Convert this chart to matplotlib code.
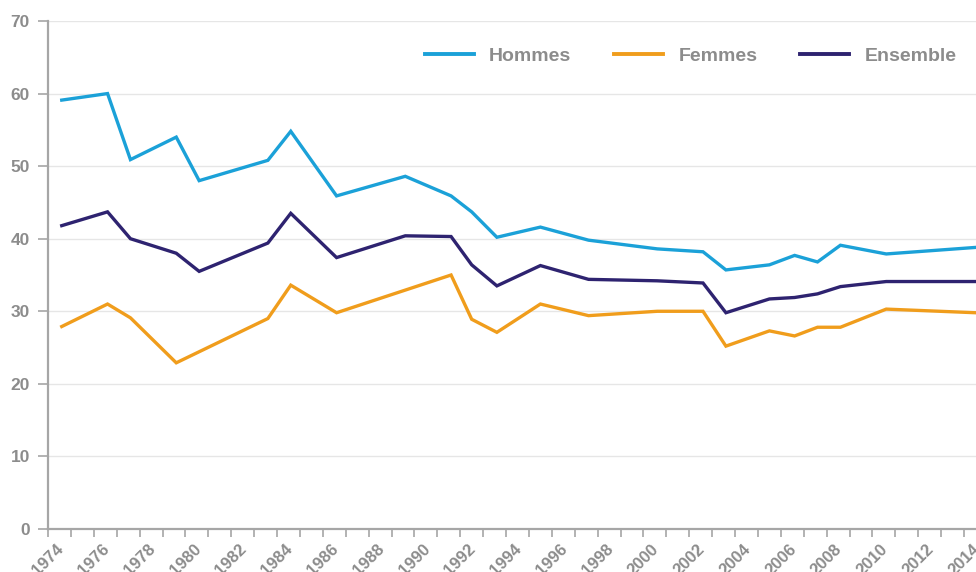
import numpy as np
import matplotlib.pyplot as plt
from matplotlib.ticker import MultipleLocator

plt.rcParams['font.family'] = ['Liberation Sans', 'DejaVu Sans']

# survey dates (fractional years, as placed on the chart)
years = [1974.6, 1976.6, 1977.6, 1979.6, 1980.6, 1983.6, 1984.6, 1986.6,
         1989.6, 1991.6, 1992.5, 1993.6, 1995.5, 1997.6, 2000.6, 2002.6,
         2003.6, 2005.5, 2006.6, 2007.6, 2008.6, 2010.6, 2014.5]

hommes = [59.1, 60.0, 50.9, 54.0, 48.0, 50.8, 54.8, 45.9,
          48.6, 45.9, 43.7, 40.2, 41.6, 39.8, 38.6, 38.2,
          35.7, 36.4, 37.7, 36.8, 39.1, 37.9, 38.8]

femmes = [27.9, 31.0, 29.1, 22.9, np.nan, 29.0, 33.6, 29.8,
          np.nan, 35.0, 28.9, 27.1, 31.0, 29.4, 30.0, 30.0,
          25.2, 27.3, 26.6, 27.8, 27.8, 30.3, 29.8]

ensemble = [41.8, 43.7, 40.0, 38.0, 35.5, 39.4, 43.5, 37.4,
            40.4, 40.3, 36.4, 33.5, 36.3, 34.4, 34.2, 33.9,
            29.8, 31.7, 31.9, 32.4, 33.4, 34.1, 34.1]

series = [('Hommes', hommes, '#1ba1d8'),
          ('Femmes', femmes, '#f09d1c'),
          ('Ensemble', ensemble, '#2e2370')]

grey = '#8c8c8c'

fig = plt.figure(figsize=(9.76, 5.72), dpi=100)
ax = fig.add_axes([48 / 976, 43 / 572, 928 / 976, 508 / 572])

x = np.array(years)
for name, vals, color in series:
    v = np.array(vals, dtype=float)
    ok = ~np.isnan(v)
    ax.plot(x[ok], v[ok], color=color, lw=2.4, label=name,
            solid_joinstyle='miter', clip_on=False)

ax.set_xlim(1974, 2014.52)
ax.set_ylim(0, 70)
ax.yaxis.set_major_locator(MultipleLocator(10))
ax.xaxis.set_major_locator(MultipleLocator(2))
ax.xaxis.set_minor_locator(MultipleLocator(1))

ax.grid(axis='y', color='#e6e6e6', lw=1)
ax.set_axisbelow(True)
for s in ['top', 'right']:
    ax.spines[s].set_visible(False)
for s in ['left', 'bottom']:
    ax.spines[s].set_color('#a6a6a6')
    ax.spines[s].set_linewidth(1.6)

ax.tick_params(axis='y', colors='#a6a6a6', length=7, width=1.2, pad=6,
               labelcolor=grey, labelsize=12.5)
ax.tick_params(axis='x', which='both', colors='#a6a6a6', length=6, width=1.2,
               pad=3, labelcolor=grey, labelsize=12)
for lab in ax.get_yticklabels():
    lab.set_fontweight('bold')
for lab in ax.get_xticklabels():
    lab.set_rotation(45)
    lab.set_fontweight('bold')

leg = ax.legend(ncol=3, frameon=False, loc='center right',
                bbox_to_anchor=(966 / 976, 1 - 56 / 572),
                bbox_transform=fig.transFigure, borderpad=0,
                handlelength=2.5, handletextpad=0.8, columnspacing=2.2,
                prop={'size': 14, 'weight': 'bold'})
for t in leg.get_texts():
    t.set_color(grey)
for h in leg.get_lines():
    h.set_linewidth(2.8)

fig.savefig('out.png', dpi=100)
